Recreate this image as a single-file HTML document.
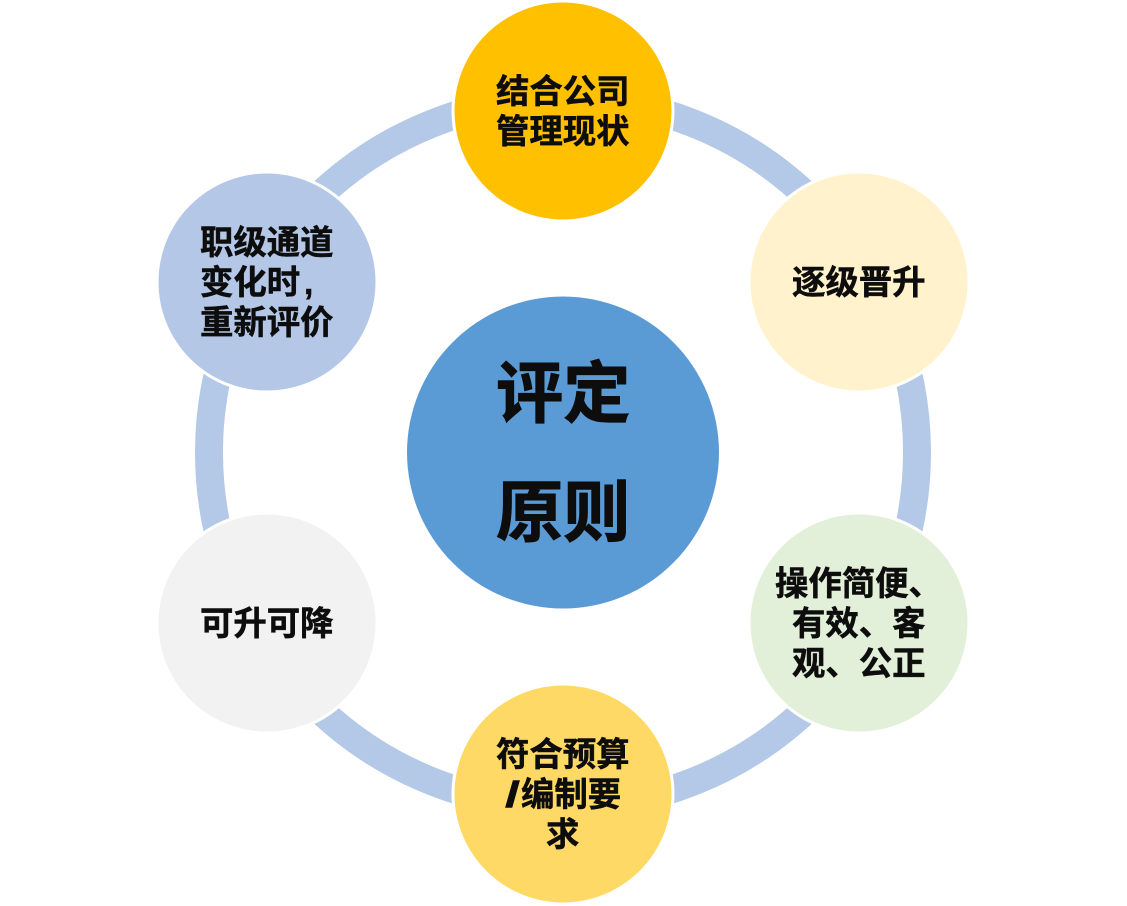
<!DOCTYPE html>
<html lang="zh">
<head>
<meta charset="utf-8">
<style>
html,body{margin:0;padding:0;background:#fff;width:1127px;height:906px;overflow:hidden}
svg{display:block}
text{font-family:"Liberation Sans","Noto Sans CJK SC",sans-serif;font-weight:700;fill:#0d0d0d;stroke:#0d0d0d;stroke-width:.5px;font-size:33.4px}
.big{font-size:67.2px;stroke-width:1px}
</style>
</head>
<body>
<svg width="1127" height="906" viewBox="0 0 1127 906" xmlns="http://www.w3.org/2000/svg">
<circle cx="563" cy="452.5" r="354" fill="none" stroke="#b4c9e7" stroke-width="28"/>
<g stroke="#fff" stroke-width="3">
<circle cx="563" cy="111" r="110" fill="#ffc000"/>
<circle cx="859" cy="282" r="110" fill="#fff2cc"/>
<circle cx="859" cy="623" r="110" fill="#e2f0d9"/>
<circle cx="563" cy="794" r="110" fill="#ffd966"/>
<circle cx="267" cy="623" r="110" fill="#f2f2f2"/>
<circle cx="267" cy="282" r="110" fill="#b4c7e7"/>
</g>
<circle cx="563" cy="452.5" r="156" fill="#5b9bd5"/>
<text x="496" y="103">结合公司</text>
<text x="496" y="143">管理现状</text>
<text x="792" y="294">逐级晋升</text>
<text x="775" y="595">操作简便、</text>
<text x="792" y="635">有效、客</text>
<text x="792" y="675">观、公正</text>
<text x="496" y="766">符合预算</text>
<text transform="translate(505 807) scale(1.5 1)" x="0" y="0" style="font-size:36px">/</text>
<text x="521" y="806">编制要</text>
<text x="546" y="846">求</text>
<text x="200" y="635">可升可降</text>
<text x="200" y="254">职级通道</text>
<text x="200" y="294">变化时</text>
<text x="304" y="294">,</text>
<text x="200" y="334">重新评价</text>
<text class="big" x="496" y="417">评定</text>
<text class="big" x="496" y="536">原则</text>
</svg>
</body>
</html>
